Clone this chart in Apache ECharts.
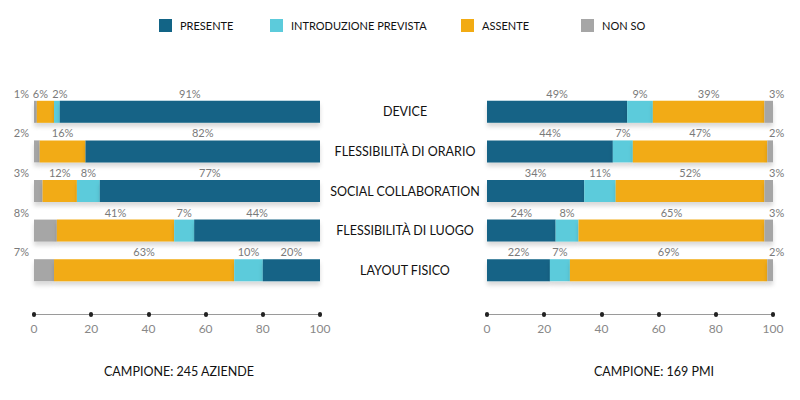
<!DOCTYPE html>
<html>
<head>
<meta charset="utf-8">
<script src="https://cdn.jsdelivr.net/npm/echarts@6/dist/echarts.min.js"></script>
<style>html,body{margin:0;padding:0;background:#fff}#c{width:800px;height:400px}</style>
</head>
<body>
<div id="c"></div>
<script>
const categories = ['DEVICE', 'FLESSIBILITÀ DI ORARIO', 'SOCIAL COLLABORATION', 'FLESSIBILITÀ DI LUOGO', 'LAYOUT FISICO'];
const seriesNames = ['PRESENTE', 'INTRODUZIONE PREVISTA', 'ASSENTE', 'NON SO'];
const aziendePresente = [91, 82, 77, 44, 20];
const aziendeIntroduzione = [2, 0, 8, 7, 10];
const aziendeAssente = [6, 16, 12, 41, 63];
const aziendeNonSo = [1, 2, 3, 8, 7];
const pmiPresente = [49, 44, 34, 24, 22];
const pmiIntroduzione = [9, 7, 11, 8, 7];
const pmiAssente = [39, 47, 52, 65, 69];
const pmiNonSo = [3, 2, 3, 3, 2];
const xTicks = [0, 20, 40, 60, 80, 100];
const titleLeft = 'CAMPIONE: 245 AZIENDE';
const titleRight = 'CAMPIONE: 169 PMI';

const FONT = 'Lato';
const colors = {
  'PRESENTE': '#126486',
  'INTRODUZIONE PREVISTA': '#5ccbdb',
  'ASSENTE': '#f2ab13',
  'NON SO': '#a6a6a6'
};
const fmt = p => p.value ? p.value + '%' : '';
const baseLabel = { show: true, position: 'top', distance: 2, fontFamily: FONT, fontSize: 11, color: '#7a7a7a', formatter: fmt };

// small segments: nudge label horizontally so neighbouring labels do not collide
function withNudge(data, limit, dx) {
  return data.map(v => v > 0 && v < limit ? { value: v, label: { offset: [dx, 0] } } : v);
}

function bar(name, data, idx, extraLabel) {
  return {
    type: 'bar', name: name, data: data, stack: 's' + idx,
    xAxisIndex: idx, yAxisIndex: idx, barWidth: 22,
    itemStyle: { color: colors[name], shadowColor: 'rgba(0,0,0,0.15)', shadowBlur: 4, shadowOffsetY: 4 },
    label: Object.assign({}, baseLabel, extraLabel || {})
  };
}

const xAxisBase = {
  type: 'value', min: 0, max: 100, interval: 20, offset: 24,
  axisLine: { show: true, lineStyle: { color: '#9a9a9a', width: 1 } },
  axisTick: { show: true, length: 1, lineStyle: { color: '#222', width: 4, cap: 'round' } },
  axisLabel: { color: '#888', fontFamily: FONT, fontSize: 12, margin: 8, formatter: v => xTicks.includes(v) ? String(v) : '' },
  splitLine: { show: false }
};

const chart = echarts.init(document.getElementById('c'), null, { renderer: 'svg' });
const legendPos = [159, 270, 461, 581];
chart.setOption({
  animation: false,
  backgroundColor: '#fff',
  legend: seriesNames.map((n, i) => ({
    data: [n], left: legendPos[i], top: 19, padding: 0, icon: 'rect',
    itemWidth: 13, itemHeight: 13, selectedMode: false,
    textStyle: { fontFamily: FONT, fontSize: 11, color: '#111', padding: [0, 0, 0, 3] }
  })),
  grid: [
    { left: 34, right: 480, top: 92, bottom: 110 },
    { left: 487, right: 27, top: 92, bottom: 110 }
  ],
  xAxis: [
    Object.assign({ gridIndex: 0 }, xAxisBase),
    Object.assign({ gridIndex: 1 }, xAxisBase)
  ],
  yAxis: [
    { type: 'category', gridIndex: 0, data: categories, inverse: true, axisLine: { show: false }, axisTick: { show: false }, axisLabel: { show: false } },
    { type: 'category', gridIndex: 1, data: categories, inverse: true, axisLine: { show: false }, axisTick: { show: false },
      axisLabel: { show: true, align: 'center', margin: 82, color: '#111', fontFamily: FONT, fontSize: 12.5 } }
  ],
  series: [
    bar('NON SO', aziendeNonSo, 0, { position: [-5, -2], align: 'right', verticalAlign: 'bottom' }),
    bar('ASSENTE', withNudge(aziendeAssente, 8, -5), 0),
    bar('INTRODUZIONE PREVISTA', withNudge(aziendeIntroduzione, 4, 3), 0),
    bar('PRESENTE', aziendePresente, 0),
    bar('PRESENTE', pmiPresente, 1),
    bar('INTRODUZIONE PREVISTA', pmiIntroduzione, 1),
    bar('ASSENTE', pmiAssente, 1),
    bar('NON SO', pmiNonSo, 1, { position: ['100%', -2], align: 'left', verticalAlign: 'bottom', offset: [-4, 0] })
  ],
  graphic: [
    { type: 'text', x: 179, y: 371, style: { text: titleLeft, textAlign: 'center', textVerticalAlign: 'middle', font: '12.5px ' + FONT, fill: '#111' } },
    { type: 'text', x: 654, y: 371, style: { text: titleRight, textAlign: 'center', textVerticalAlign: 'middle', font: '12.5px ' + FONT, fill: '#111' } }
  ]
});
</script>
</body>
</html>
